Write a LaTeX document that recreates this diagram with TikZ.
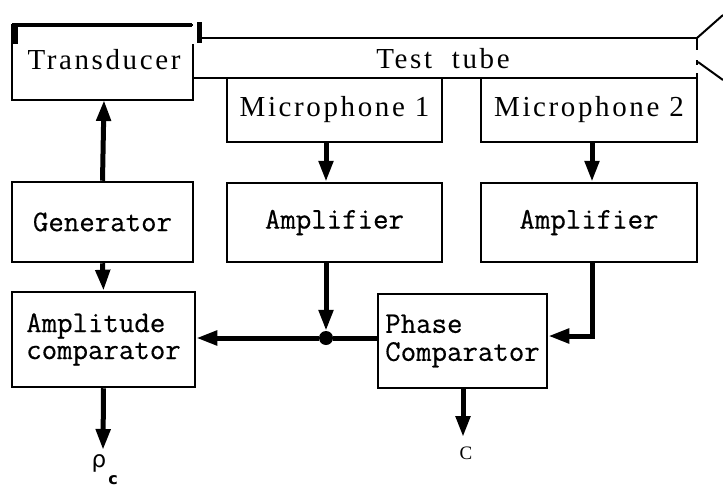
\documentclass[tikz,border=0pt]{standalone}
\usepackage{fontspec}
\setmainfont{Liberation Serif}
\newfontfamily\spaced[LetterSpace=9]{Liberation Serif}
\newfontfamily\monob[FakeBold=0.5]{Latin Modern Mono}
\newfontfamily\dejavu{DejaVu Sans}
\usetikzlibrary{arrows.meta}
\tikzset{
  box/.style={draw, line width=2.5pt, inner sep=0pt, align=center},
  serifbox/.style={box, font=\spaced\fontsize{29}{30}\selectfont},
  monobox/.style={box, font=\monob\fontsize{30}{27}\selectfont},
  arr/.style={line width=5pt, -{Triangle[length=21pt 0, width=14pt 0]}},
  thickline/.style={line width=5pt},
  tubeline/.style={line width=2.5pt},
}
\begin{document}
\begin{tikzpicture}[x=1pt, y=-1pt]
\useasboundingbox (0,0) rectangle (723,490);
% transducer (outline drawn by hand)
\node[inner sep=0pt, font=\spaced\fontsize{29}{30}\selectfont, minimum width=181pt, minimum height=75pt] (trans) at (104,60) {Transducer};
\draw[tubeline, line cap=rect] (193,45) -- (193,100) -- (12,100) -- (12,25) -- (192,25);
\fill (12,24) rectangle (18,44);
\draw[line width=3.5pt] (12,25) -- (192,25);
\fill (197,22) rectangle (202,43);
% test tube
\draw[tubeline] (202,38) -- (697,38);
\draw[tubeline] (193,78) -- (697,78);
\draw[tubeline, dash pattern=on 12pt off 10pt on 5pt off 8pt] (697,38) -- (697,78);
\draw[line width=2pt] (697,38) -- (723,15);
\draw[line width=2pt] (698,62) -- (723,80);
\node[inner sep=0pt, font=\spaced\fontsize{29}{30}\selectfont, anchor=base] (tube) at (443,68) {Test\hspace{10pt} tube};
% microphones
\node[serifbox, minimum width=215pt, minimum height=64pt] (mic1) at (334.5,110) {Microphone 1};
\node[serifbox, minimum width=216pt, minimum height=64pt] (mic2) at (589,110) {Microphone 2};
% row 2
\node[monobox, minimum width=181pt, minimum height=80pt] (gen) at (102.5,222) {Generator};
\node[monobox, minimum width=215pt, minimum height=79pt] (amp1) at (334.5,222.5) {Amplifier};
\node[monobox, minimum width=216pt, minimum height=79pt] (amp2) at (589,222.5) {Amplifier};
% comparators
\node[monobox, align=left, minimum width=183pt, minimum height=95pt] (ampc) at (103.5,339.5) {Amplitude\\comparator};
\node[monobox, align=left, minimum width=169pt, minimum height=94pt, font=\monob\fontsize{30}{28}\selectfont] (phc) at (462.5,341) {Phase\\Comparator};
% junction
\node[circle, fill, inner sep=0pt, minimum size=14pt] (dot) at (326,338) {};
\coordinate (x2) at (592,0);
\coordinate (rhoend) at (103,450);
\coordinate (cend) at (463,437);
% labels
\node[inner sep=0pt, font=\dejavu\fontsize{23}{23}\selectfont] (rho) at (99,463) {ρ};
\node[inner sep=0pt, font=\dejavu\bfseries\fontsize{16}{16}\selectfont] (rhoc) at (113,480) {c};
\node[inner sep=0pt, font=\fontsize{19}{19}\selectfont] (clab) at (466,453) {C};
% connectors
\draw[arr] (gen.north) -- (trans.south |- 0,100);
\draw[arr] (gen.south) -- (ampc.north);
\draw[arr] (mic1.south -| dot) -- (amp1.north -| dot);
\draw[arr] (mic2.south -| x2) -- (amp2.north -| x2);
\draw[arr] (amp1.south -| dot) -- (dot.north);
\draw[thickline] (phc.west |- dot) -- (dot);
\draw[arr] (dot) -- (ampc.east |- dot);
\draw[arr] (amp2.south -| x2) |- ([yshift=5pt]phc.east);
\draw[arr] (ampc.south) -- (rhoend);
\draw[arr] (phc.south -| cend) -- (cend);
\end{tikzpicture}
\end{document}
